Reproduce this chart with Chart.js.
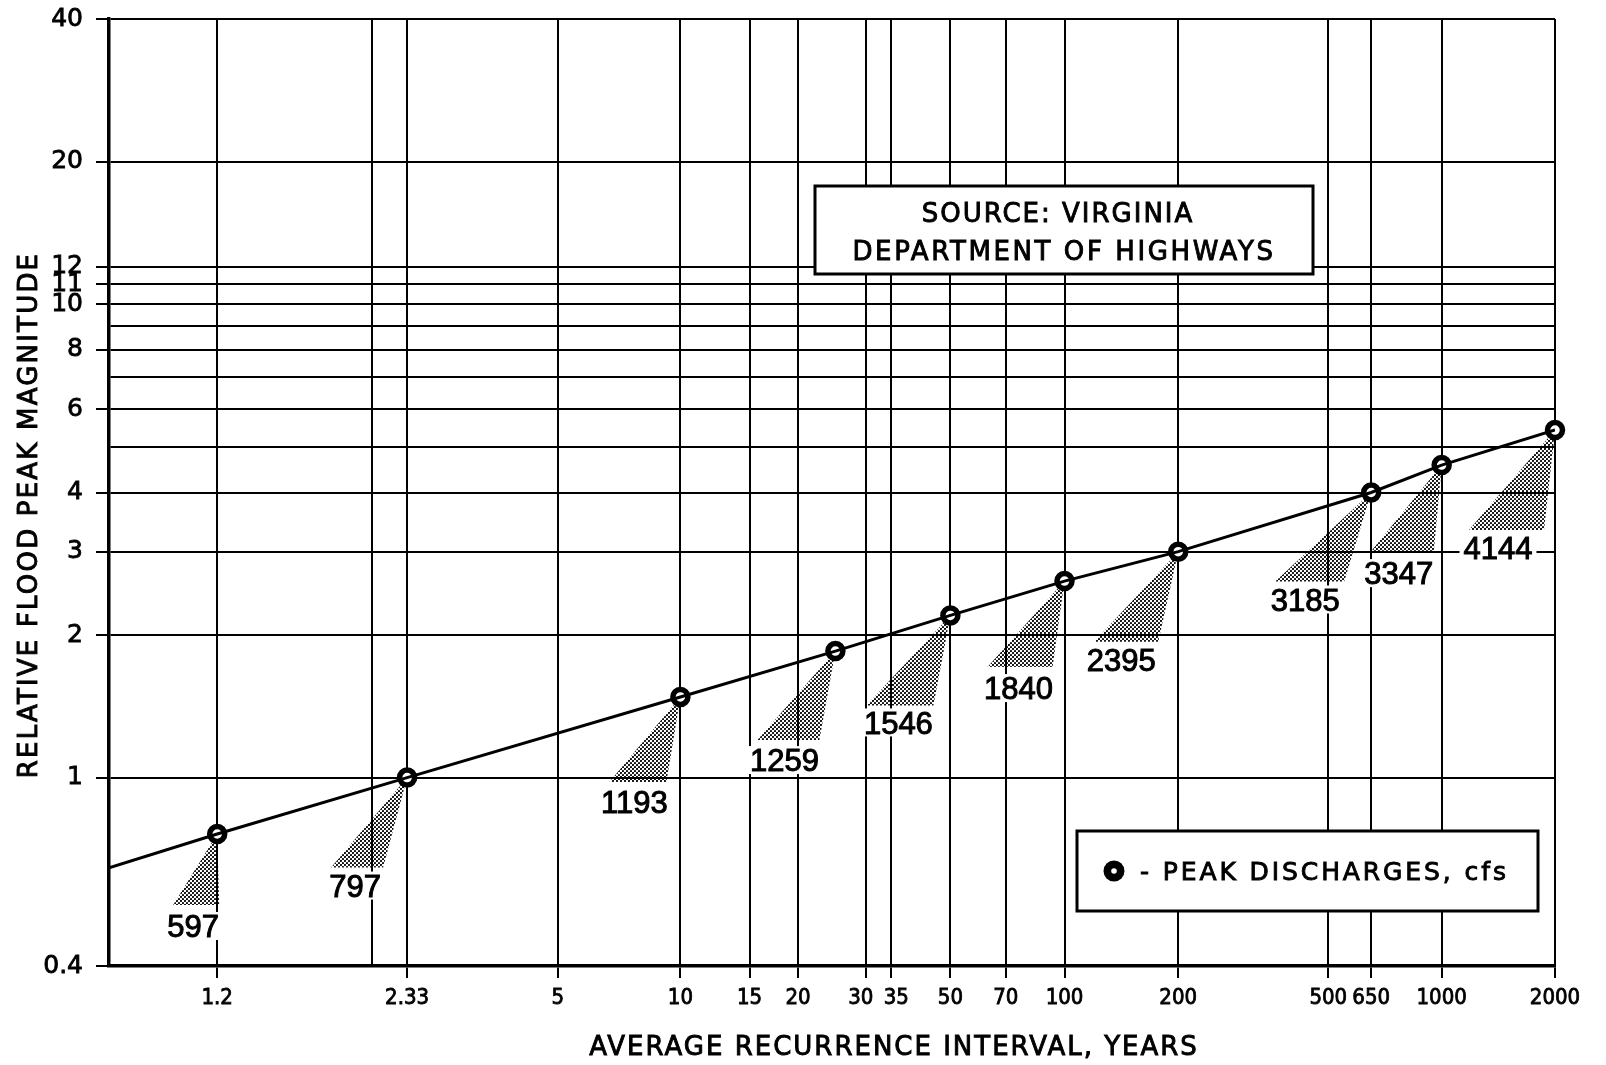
<!DOCTYPE html>
<html>
<head>
<meta charset="utf-8">
<title>Relative flood peak magnitude vs. average recurrence interval</title>
<script src="https://cdn.jsdelivr.net/npm/chart.js@4.4.1/dist/chart.umd.min.js"></script>
<style>
  html, body { margin: 0; padding: 0; background: #fff; }
  #wrap { width: 1606px; height: 1065px; }
</style>
</head>
<body>
<div id="wrap"><canvas id="chart" width="1606" height="1065"></canvas></div>
<script>
// ---- data ---------------------------------------------------------------
// Average recurrence interval (years) of each plotted peak
const recurrenceYears = [1.2, 2.33, 10, 25, 50, 100, 200, 650, 1000, 2000];
// Flood peak relative to the mean annual (2.33-year) flood
const relativeMagnitude = [0.76, 1.0, 1.48, 1.85, 2.2, 2.6, 3.0, 4.0, 4.57, 5.42];
// Peak discharges written beside the points, cfs
const peakDischarge = [597, 797, 1193, 1259, 1546, 1840, 2395, 3185, 3347, 4144];

// Vertical rulings of the probability paper and their captions
const xGridYears  = [1.2, 2, 2.33, 5, 10, 15, 20, 30, 35, 50, 70, 100, 200, 500, 650, 1000, 2000];
const xTickLabels = ['1.2', '', '2.33', '5', '10', '15', '20', '30', '35', '50', '70', '100', '200', '500', '650', '1000', '2000'];
// Horizontal rulings (log scale) and their captions
const yGridValues = [0.4, 1, 2, 3, 4, 5, 6, 7, 8, 9, 10, 11, 12, 20, 40];
const yTickLabels = ['0.4', '1', '2', '3', '4', '', '6', '', '8', '', '10', '11', '12', '20', '40'];

// Left edge of the paper and the fitted line where it meets it
const axisStartYears = 1.032;
const lineStartRelative = 0.645;

// ---- layout / style -----------------------------------------------------
const FONT = '"DejaVu Sans", "Liberation Sans", sans-serif';
const TICK_FONT = '"DejaVu Sans Condensed", "Liberation Sans Narrow", "DejaVu Sans", sans-serif';
const NUM_FONT = '"Liberation Sans", Arial, sans-serif';

// Closely spaced rulings whose captions are eased apart (en-space padding side)
const crowdedCaptions = { '30': 'after', '35': 'before' };

// Shaded leader under each point: drop to the base, base ends, caption centre (px from the point)
const calloutLayout = [
  { drop: 71, left: -44, right: 2,   labelDx: -24, labelDy: 92 },
  { drop: 90, left: -76, right: -24, labelDx: -52, labelDy: 108 },
  { drop: 85, left: -71, right: -14, labelDx: -46, labelDy: 105 },
  { drop: 89, left: -78, right: -16, labelDx: -51, labelDy: 109 },
  { drop: 90, left: -84, right: -17, labelDx: -52, labelDy: 107 },
  { drop: 86, left: -77, right: -12, labelDx: -46, labelDy: 107 },
  { drop: 90, left: -84, right: -20, labelDx: -57, labelDy: 108 },
  { drop: 89, left: -96, right: -27, labelDx: -66, labelDy: 107 },
  { drop: 88, left: -72, right: -8,  labelDx: -43, labelDy: 108 },
  { drop: 100, left: -86, right: -11, labelDx: -57, labelDy: 118 }
];
const sourceBox = { x: 815, y: 186, w: 498, h: 88 };
const legendBox = { x: 1077, y: 831, w: 461, h: 80 };

// Gumbel reduced variate: extreme-value probability paper abscissa
const gumbel = T => -Math.log(-Math.log(1 - 1 / T));

const peakPoints = recurrenceYears.map((T, i) => ({ x: gumbel(T), y: relativeMagnitude[i] }));
const fitPoints = [{ x: gumbel(axisStartYears), y: lineStartRelative }].concat(peakPoints);

function xCaption(i) {
  const s = xTickLabels[i];
  const side = crowdedCaptions[s];
  if (side === 'after') return s + '\u2002';
  if (side === 'before') return '\u2002' + s;
  return s;
}

function spacedText(ctx, text, x, y, font, spacing, align, weight) {
  ctx.font = font;
  ctx.letterSpacing = spacing + 'px';
  ctx.textAlign = align || 'center';
  ctx.textBaseline = 'alphabetic';
  ctx.fillText(text, x, y);
  ctx.lineWidth = weight === undefined ? 0.9 : weight;
  ctx.strokeStyle = ctx.fillStyle;
  ctx.strokeText(text, x, y);
  ctx.letterSpacing = '0px';
}

const paperNotes = {
  id: 'paperNotes',
  beforeDatasetsDraw(chart) {
    const ctx = chart.ctx;
    const pts = chart.getDatasetMeta(1).data;

    // halftone stipple for the leaders
    const tile = document.createElement('canvas');
    tile.width = 4; tile.height = 4;
    const tc = tile.getContext('2d');
    tc.fillStyle = '#000';
    [[1, 1], [3, 3]].forEach(([dx, dy]) => {
      tc.beginPath(); tc.arc(dx, dy, 1.1, 0, Math.PI * 2); tc.fill();
    });
    const stipple = ctx.createPattern(tile, 'repeat');

    ctx.save();
    pts.forEach((p, i) => {
      const c = calloutLayout[i];
      const by = p.y + c.drop;
      ctx.beginPath();
      ctx.moveTo(p.x, p.y);
      ctx.lineTo(p.x + c.right, by);
      ctx.lineTo(p.x + c.left, by);
      ctx.closePath();
      ctx.fillStyle = stipple;
      ctx.fill();
    });

    // discharge captions on white so the rulings break around them
    pts.forEach((p, i) => {
      const c = calloutLayout[i];
      const txt = String(peakDischarge[i]);
      ctx.font = '31px ' + NUM_FONT;
      const w = ctx.measureText(txt).width;
      const cx = p.x + c.labelDx, cy = p.y + c.labelDy;
      ctx.fillStyle = '#fff';
      ctx.fillRect(cx - w / 2 - 4, cy - 14, w + 8, 28);
      ctx.fillStyle = '#000';
      spacedText(ctx, txt, cx, cy + 0.716 * 31 / 2, '31px ' + NUM_FONT, 0, 'center', 1);
    });

    // source note
    ctx.fillStyle = '#fff';
    ctx.fillRect(sourceBox.x, sourceBox.y, sourceBox.w, sourceBox.h);
    ctx.strokeStyle = '#000';
    ctx.lineWidth = 3;
    ctx.strokeRect(sourceBox.x, sourceBox.y, sourceBox.w, sourceBox.h);
    ctx.fillStyle = '#000';
    const scx = sourceBox.x + sourceBox.w / 2;
    spacedText(ctx, 'SOURCE: VIRGINIA', scx - 6, sourceBox.y + 26 + 9.5, '26px ' + FONT, 2);
    spacedText(ctx, 'DEPARTMENT OF HIGHWAYS', scx, sourceBox.y + 64 + 9.5, '26px ' + FONT, 2.6);

    // key
    ctx.fillStyle = '#fff';
    ctx.fillRect(legendBox.x, legendBox.y, legendBox.w, legendBox.h);
    ctx.strokeStyle = '#000';
    ctx.lineWidth = 3;
    ctx.strokeRect(legendBox.x, legendBox.y, legendBox.w, legendBox.h);
    const ky = legendBox.y + legendBox.h / 2;
    ctx.fillStyle = '#000';
    ctx.beginPath();
    ctx.arc(legendBox.x + 37, ky, 10.5, 0, Math.PI * 2);
    ctx.fill();
    ctx.fillStyle = '#fff';
    ctx.beginPath();
    ctx.arc(legendBox.x + 37, ky, 2.8, 0, Math.PI * 2);
    ctx.fill();
    ctx.fillStyle = '#000';
    spacedText(ctx, '- ' + chart.data.datasets[1].label, legendBox.x + 63, ky + 9, '25px ' + FONT, 2.9, 'left');
    ctx.restore();
  },
  afterDraw(chart) {
    const ctx = chart.ctx;
    ctx.save();
    ctx.fillStyle = '#000';
    spacedText(ctx, 'AVERAGE RECURRENCE INTERVAL, YEARS', 894, 1045 + 9.5, '26px ' + FONT, 2);
    ctx.translate(27, 515);
    ctx.rotate(-Math.PI / 2);
    spacedText(ctx, 'RELATIVE FLOOD PEAK MAGNITUDE', 0, 9.5, '26px ' + FONT, 2.2);
    ctx.restore();
  }
};

new Chart(document.getElementById('chart'), {
  type: 'scatter',
  data: {
    datasets: [
      {
        label: 'fitted line',
        data: fitPoints,
        showLine: true,
        borderColor: '#000',
        borderWidth: 3,
        pointRadius: 0,
        tension: 0
      },
      {
        label: 'PEAK DISCHARGES, cfs',
        data: peakPoints,
        showLine: false,
        pointRadius: 7.5,
        pointBorderWidth: 5.5,
        pointBackgroundColor: '#fff',
        pointBorderColor: '#000',
        clip: false
      }
    ]
  },
  options: {
    responsive: false,
    animation: false,
    devicePixelRatio: 1,
    layout: { padding: { top: 19, right: 51, left: 0, bottom: 0 } },
    plugins: { legend: { display: false }, tooltip: { enabled: false } },
    scales: {
      x: {
        type: 'linear',
        min: gumbel(axisStartYears),
        max: gumbel(2000),
        afterBuildTicks: s => { s.ticks = xGridYears.map(T => ({ value: gumbel(T) })); },
        afterFit: s => { s.height = 99; s.paddingLeft = 0; s.paddingRight = 0; },
        ticks: {
          autoSkip: false, maxRotation: 0, padding: 7, color: '#000',
          font: { family: TICK_FONT, size: 22 },
          textStrokeColor: '#000', textStrokeWidth: 0.8,
          callback: (v, i) => xCaption(i)
        },
        grid: {
          color: '#000', lineWidth: 2, tickLength: 12, tickWidth: 2,
          tickColor: c => (xTickLabels[c.index] ? '#000' : 'rgba(0,0,0,0)')
        },
        border: { color: '#000', width: 3.5 }
      },
      y: {
        type: 'logarithmic',
        min: 0.4,
        max: 40,
        afterBuildTicks: s => { s.ticks = yGridValues.map(v => ({ value: v })); },
        afterFit: s => { s.width = 109; s.paddingTop = 0; s.paddingBottom = 0; },
        ticks: {
          autoSkip: false, padding: 13, color: '#000',
          font: { family: FONT, size: 25 },
          textStrokeColor: '#000', textStrokeWidth: 0.8,
          callback: (v, i) => yTickLabels[i]
        },
        grid: {
          color: '#000', lineWidth: 2, tickLength: 13, tickWidth: 2,
          tickColor: c => (yTickLabels[c.index] ? '#000' : 'rgba(0,0,0,0)')
        },
        border: { color: '#000', width: 3.5 }
      }
    }
  },
  plugins: [paperNotes]
});
</script>
</body>
</html>
